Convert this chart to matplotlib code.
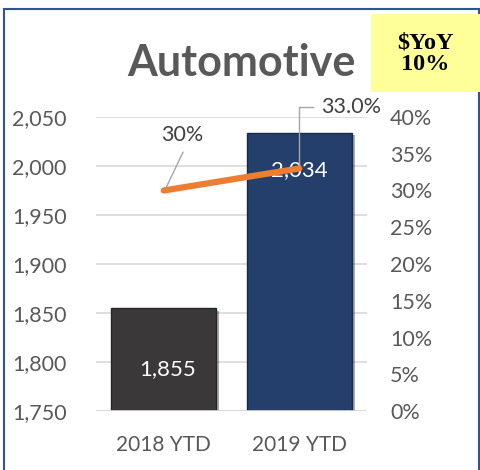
import matplotlib.pyplot as plt
from matplotlib.patches import Rectangle
import matplotlib.patheffects as pe

# data
categories = ["2018 YTD", "2019 YTD"]
sales = [1855, 2034]
bar_labels = ["1,855", "2,034"]
growth = [30, 33]
growth_labels = ["30%", "33.0%"]
bar_colors = ["#3A3838", "#243F6C"]

W, H = 481, 470
fig = plt.figure(figsize=(W / 100, H / 100), dpi=100)
plt.rcParams['font.family'] = ['Lato', 'DejaVu Sans']

# frame around the chart
fig.patches.append(Rectangle((4 / W, -0.05), 475.5 / W, 1.05 - 9 / H,
                             transform=fig.transFigure, fill=False,
                             edgecolor="#2F5597", linewidth=1.5))

ax = fig.add_axes([96 / W, 1 - 411 / H, (367 - 96) / W, (411 - 117) / H])
ax.set_ylim(1750, 2050)
ax.set_xlim(-0.5, 1.5)
ax.set_yticks(range(1750, 2051, 50))
ax.set_yticklabels([f"{v:,}" for v in range(1750, 2051, 50)])
ax.grid(axis="y", color="#D9D9D9", linewidth=1.2)
ax.set_axisbelow(True)
for s in ax.spines.values():
    s.set_visible(False)
ax.tick_params(axis="y", length=0, pad=21, labelsize=15.5, labelcolor="#595959")
ax.tick_params(axis="x", length=0, pad=17, labelsize=15, labelcolor="#595959")

bars = ax.bar(range(2), sales, width=0.775, color=bar_colors,
              edgecolor=["#262626", "#162A4A"], linewidth=1, bottom=0)
for b in bars:
    b.set_path_effects([pe.SimplePatchShadow(offset=(2, -2), alpha=0.35), pe.Normal()])
ax.set_xticks(range(2))
ax.set_xticklabels(categories)
ax.axhline(1750, color="#D9D9D9", linewidth=1.2)

ax.text(0.03, 1793, bar_labels[0], color="white", fontsize=16, ha="center", va="center")

# secondary axis with growth
ax2 = ax.twinx()
ax2.set_ylim(0, 40)
ax2.set_yticks(range(0, 41, 5))
ax2.set_yticklabels([f"{v}%" for v in range(0, 41, 5)])
for s in ax2.spines.values():
    s.set_visible(False)
ax2.tick_params(axis="y", length=0, pad=16.5, labelsize=15.5, labelcolor="#595959")

ax2.text(1.0, 32.8, bar_labels[1], color="white", fontsize=16, ha="center", va="center", zorder=2)
ax2.plot(range(2), growth, color="#ED7D31", linewidth=4.5, solid_capstyle="round", zorder=3)

# data labels with leader lines
ax2.plot([0.01, 0.142], [30.1, 35.2], color="#A6A6A6", linewidth=1)
ax2.text(0.135, 37.6, growth_labels[0], color="#404040", fontsize=15.5, ha="center", va="center")
ax2.plot([1.0, 1.0, 1.10], [33.3, 41.4, 41.4], color="#A6A6A6", linewidth=1, clip_on=False)
ax2.text(1.165, 41.3, growth_labels[1], color="#404040", fontsize=15.5, ha="left", va="center")

fig.text(241 / W, 1 - 63 / H, "Automotive", fontsize=31, fontweight="bold",
         color="#595959", ha="center", va="center")

fig.patches.append(Rectangle((371 / W, 1 - 92 / H), 110 / W, 78 / H,
                             transform=fig.transFigure, facecolor="#FFFF99",
                             edgecolor="none"))
fig.text(425 / W, 1 - 54 / H, "$YoY\n10%", fontsize=17.5, fontweight="bold",
         family="Liberation Serif", color="black", ha="center", va="center",
         linespacing=1.05)

fig.savefig("out.png", dpi=100)
